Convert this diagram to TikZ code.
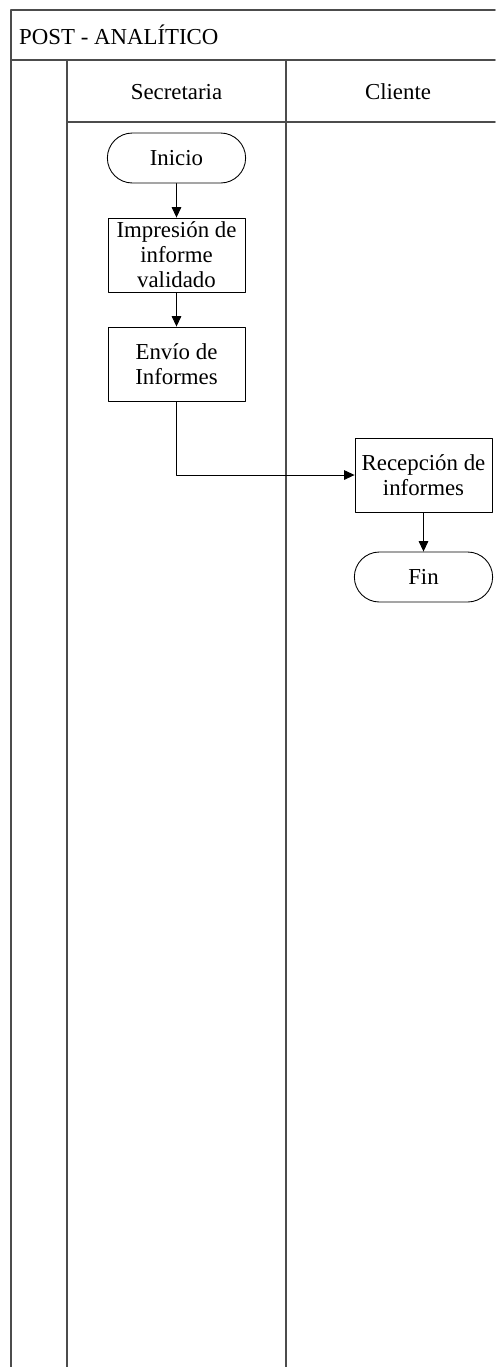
\documentclass[tikz,border=0pt]{standalone}
\usepackage{fontspec}
\setmainfont{Liberation Serif}
\usepackage{tikz}
\definecolor{lane}{rgb}{0.3,0.3,0.3}
\usetikzlibrary{arrows.meta,shapes.misc}

\begin{document}
\begin{tikzpicture}[x=0.02cm,y=-0.02cm,line cap=round,line join=round,
	lanes/.style={draw=lane,line width=1pt},
	proc/.style={draw,line width=0.5pt,minimum width=2.74cm,minimum height=1.48cm,inner sep=1pt,align=center,font=\fontsize{13}{14.2}\selectfont},
	term/.style={draw,line width=0.5pt,rounded rectangle,minimum width=3cm,minimum height=1cm,font=\fontsize{13}{14.2}\selectfont},
	flow/.style={-{Triangle[length=6pt,width=5.5pt]},line width=0.5pt},
	lbl/.style={font=\fontsize{13}{14.2}\selectfont}]
	\useasboundingbox (0,0) rectangle (495,1367);
	% frame and lanes
	\draw [lanes] (495,10) -- (11,10) -- (11,1367);
	\draw [lanes] (11,60) -- (495,60);
	\draw [lanes] (67,60) -- (67,1367);
	\draw [lanes] (286,60) -- (286,1367);
	\draw [lanes] (67,122) -- (495,122);
	\node [lbl,anchor=west] (title) at (13,35) {POST - ANALÍTICO};
	\node [lbl] (secretaria) at (176.5,92) {Secretaria};
	\node [lbl] (cliente) at (398,92) {Cliente};
	% steps
	\node [term] (inicio) at (176.5,158) {Inicio};
	\node [proc] (impresion) at (176.5,255) {Impresión de\\informe\\validado};
	\node [proc] (envio) at (176.5,364) {Envío de\\Informes};
	\node [proc] (recepcion) at (423.5,475) {Recepción de\\informes};
	\node [term] (fin) at (423.5,577) {Fin};
	\draw [flow] (inicio) -- (impresion);
	\draw [flow] (impresion) -- (envio);
	\draw [flow] (envio.south) |- (recepcion.west);
	\draw [flow] (recepcion) -- (fin);
\end{tikzpicture}
\end{document}
